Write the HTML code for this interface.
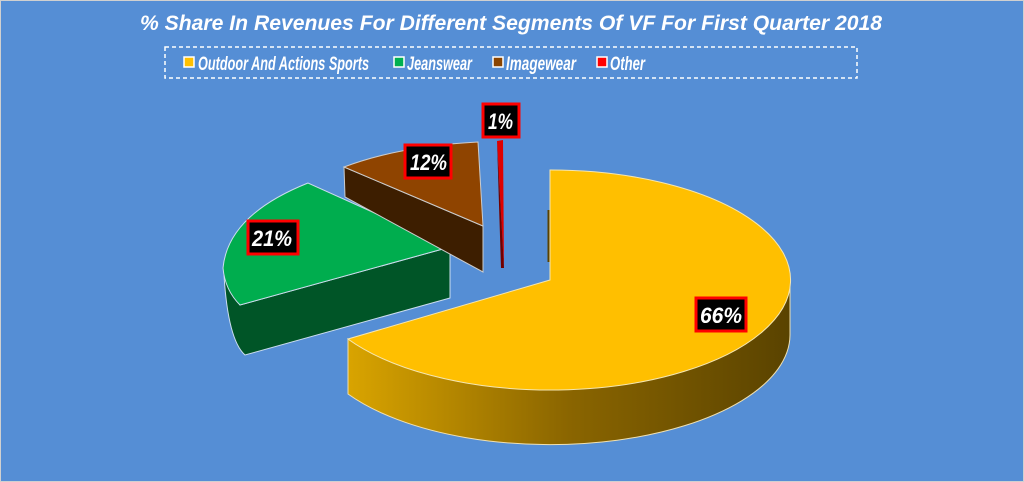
<!DOCTYPE html>
<html><head><meta charset="utf-8"><style>
body{margin:0;width:1024px;height:482px;overflow:hidden;background:#fff}
svg{display:block}
text{font-family:"Liberation Sans",sans-serif;font-weight:bold;font-style:italic;fill:#fff}
</style></head><body>
<svg width="1024" height="482" viewBox="0 0 1024 482">
<defs>
<linearGradient id="ys" x1="348" y1="0" x2="790" y2="0" gradientUnits="userSpaceOnUse">
<stop offset="0" stop-color="#d9a400"/><stop offset="0.5" stop-color="#8a6500"/><stop offset="1" stop-color="#5a4300"/></linearGradient>
</defs>
<rect x="0" y="0" width="1024" height="482" fill="#558ed5" stroke="#d0d0d0" stroke-width="2"/>
<text x="140" y="30" font-size="21" textLength="742" lengthAdjust="spacingAndGlyphs">% Share In Revenues For Different Segments Of VF For First Quarter 2018</text>
<rect x="165" y="47" width="692" height="31" fill="none" stroke="#fff" stroke-width="1.5" stroke-dasharray="4,3"/>
<rect x="184" y="57" width="10" height="10" fill="#ffc000" stroke="#fff" stroke-width="1.5"/>
<text x="198" y="70" font-size="19" textLength="171" lengthAdjust="spacingAndGlyphs">Outdoor And Actions Sports</text>
<rect x="394" y="57" width="10" height="10" fill="#00b050" stroke="#fff" stroke-width="1.5"/>
<text x="407" y="70" font-size="19" textLength="65" lengthAdjust="spacingAndGlyphs">Jeanswear</text>
<rect x="493" y="57" width="10" height="10" fill="#8b4500" stroke="#fff" stroke-width="1.5"/>
<text x="506" y="70" font-size="19" textLength="70" lengthAdjust="spacingAndGlyphs">Imagewear</text>
<rect x="597" y="57" width="10" height="10" fill="#ff0000" stroke="#fff" stroke-width="1.5"/>
<text x="610" y="70" font-size="19" textLength="35" lengthAdjust="spacingAndGlyphs">Other</text>

<line x1="549" y1="210" x2="549" y2="262" stroke="#5a4300" stroke-width="3"/>
<path d="M790,280 A240,110 0 0 1 348,339 L348,394 A240,110 0 0 0 790,335 Z" fill="url(#ys)" stroke="#f0e0b0" stroke-width="1"/>
<path d="M550,280 L550,170 A240,110 0 1 1 348,339 Z" fill="#ffbf00" stroke="#f5e6b0" stroke-width="1"/>

<path d="M240,305 L450,247 L450,298 L245,355 Q228,340 224,275 Z" fill="#005527" stroke="#cde" stroke-width="1"/>
<path d="M450,247 L308,183 Q228,215 223,268 Q225,290 240,305 Z" fill="#00ad4e" stroke="#cde" stroke-width="1"/>

<path d="M344,167 L483,226 L483,272 L345,197 Z" fill="#3d1e00" stroke="#ccc" stroke-width="1"/>
<path d="M483,226 L344,167 Q400,146 478,142 Z" fill="#8f4400" stroke="#ccc" stroke-width="1"/>

<path d="M497,141 L503,140 L504,268 Z" fill="#e00000"/>
<path d="M497,141 L504,268 L501,268 Z" fill="#700000"/>

<g font-size="22">
<rect x="483" y="104" width="36" height="33" fill="#000" stroke="#f00" stroke-width="3"/>
<text x="488" y="129" textLength="25" lengthAdjust="spacingAndGlyphs">1%</text>
<rect x="405" y="145" width="46" height="33" fill="#000" stroke="#f00" stroke-width="3"/>
<text x="410" y="170" textLength="37" lengthAdjust="spacingAndGlyphs">12%</text>
<rect x="248" y="221" width="50" height="33" fill="#000" stroke="#f00" stroke-width="3"/>
<text x="252" y="246" textLength="40" lengthAdjust="spacingAndGlyphs">21%</text>
<rect x="696" y="298" width="50" height="33" fill="#000" stroke="#f00" stroke-width="3"/>
<text x="700" y="323" textLength="42" lengthAdjust="spacingAndGlyphs">66%</text>
</g>
</svg>
</body></html>
